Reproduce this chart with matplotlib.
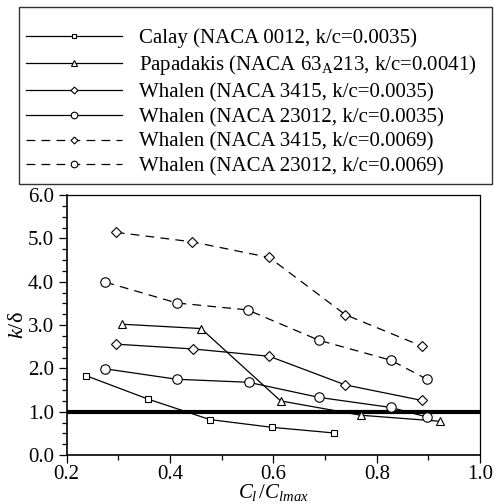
import matplotlib
matplotlib.use('Agg')
import matplotlib.pyplot as plt
from matplotlib.ticker import MultipleLocator, FormatStrFormatter

plt.rcParams['font.family'] = ['Liberation Serif', 'DejaVu Serif']
plt.rcParams['mathtext.fontset'] = 'custom'
plt.rcParams['mathtext.rm'] = 'Liberation Serif'
plt.rcParams['mathtext.it'] = 'Liberation Serif:italic'

# roughness height ratio vs. lift ratio for each data set
calay_x = [0.238, 0.358, 0.477, 0.598, 0.718]
calay_y = [1.83, 1.29, 0.82, 0.64, 0.51]

papadakis_x = [0.307, 0.460, 0.614, 0.769, 0.923]
papadakis_y = [3.02, 2.92, 1.25, 0.92, 0.78]

w3415_lo_x = [0.295, 0.444, 0.592, 0.739, 0.888]
w3415_lo_y = [2.56, 2.45, 2.28, 1.62, 1.26]

w23012_lo_x = [0.275, 0.413, 0.552, 0.689, 0.827, 0.897]
w23012_lo_y = [1.99, 1.75, 1.68, 1.33, 1.10, 0.88]

w3415_hi_x = [0.295, 0.443, 0.592, 0.739, 0.888]
w3415_hi_y = [5.14, 4.92, 4.56, 3.24, 2.51]

w23012_hi_x = [0.275, 0.413, 0.550, 0.688, 0.827, 0.897]
w23012_hi_y = [3.99, 3.51, 3.35, 2.65, 2.19, 1.75]

labels = [
    'Calay (NACA 0012, k/c=0.0035)',
    r'Papadakis (NACA 63$_{\mathrm{A}}$213, k/c=0.0041)',
    'Whalen (NACA 3415, k/c=0.0035)',
    'Whalen (NACA 23012, k/c=0.0035)',
    'Whalen (NACA 3415, k/c=0.0069)',
    'Whalen (NACA 23012, k/c=0.0069)',
]

fig = plt.figure(figsize=(4.94, 5.04), dpi=100)
ax = fig.add_axes([0.135, 0.097, 0.837, 0.516])

common = dict(color='black', lw=0.9, mfc='white', mec='black', mew=0.8)
dash = (0, (7, 5))
series = [
    (calay_x, calay_y, 's', 5, '-'),
    (papadakis_x, papadakis_y, '^', 6, '-'),
    (w3415_lo_x, w3415_lo_y, 'D', 5, '-'),
    (w23012_lo_x, w23012_lo_y, 'o', 6.8, '-'),
    (w3415_hi_x, w3415_hi_y, 'D', 5, dash),
    (w23012_hi_x, w23012_hi_y, 'o', 6.8, dash),
]
handles = []
for (xs, ys, m, ms, ls), lab in zip(series, labels):
    h, = ax.plot(xs, ys, marker=m, ms=ms, ls=ls, label=lab, **common)
    handles.append(h)

ax.axhline(1.0, color='black', lw=3, zorder=1)

ax.set_xlim(0.2, 1.0)
ax.set_ylim(0.0, 6.0)
ax.xaxis.set_major_locator(MultipleLocator(0.2))
ax.xaxis.set_minor_locator(MultipleLocator(0.1))
ax.yaxis.set_major_locator(MultipleLocator(1.0))
ax.yaxis.set_minor_locator(MultipleLocator(0.25))
ax.xaxis.set_major_formatter(FormatStrFormatter('%.1f'))
ax.yaxis.set_major_formatter(FormatStrFormatter('%.1f'))
ax.tick_params(which='major', direction='out', length=6, width=0.9, labelsize=15)
ax.tick_params(which='minor', direction='out', length=3.5, width=0.9)
ax.tick_params(axis='x', pad=1)
ax.tick_params(axis='y', pad=3)

for side in ['top', 'right']:
    ax.spines[side].set_linestyle((0, (1, 1)))
    ax.spines[side].set_linewidth(0.9)
for side in ['left', 'bottom']:
    ax.spines[side].set_linewidth(1.2)

ax.set_xlabel(r'$C_l\,/C_{lmax}$', fontsize=15, labelpad=-1)
ax.set_ylabel(r'$k$/δ', fontsize=16, labelpad=0)

# blank title gives the extra space above the first row
leg = fig.legend(handles=handles, loc='upper left',
                 bbox_to_anchor=(0.038, 0.639, 0.958, 0.347), mode='expand',
                 borderaxespad=0, fontsize=15, handlelength=4.6,
                 handletextpad=0.8, labelspacing=0.25, borderpad=0.35,
                 markerscale=0.7, fancybox=False, framealpha=1,
                 title=' ', title_fontsize=7)
leg.get_frame().set_edgecolor('#333333')
leg.get_frame().set_linewidth(1.0)

fig.savefig('out.png', dpi=100)
